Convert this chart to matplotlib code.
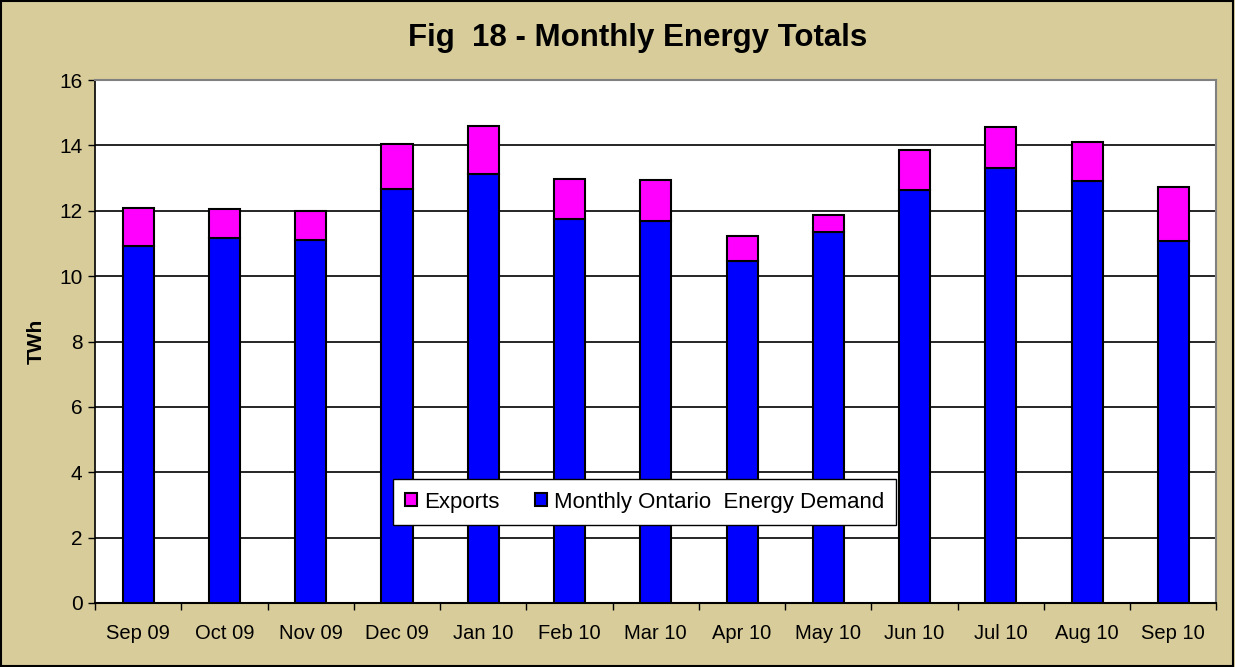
import matplotlib
matplotlib.use("Agg")
import matplotlib.pyplot as plt
from matplotlib.patches import Rectangle
import numpy as np

plt.rcParams['font.family'] = ['Liberation Sans', 'DejaVu Sans']

months = ["Sep 09", "Oct 09", "Nov 09", "Dec 09", "Jan 10", "Feb 10", "Mar 10",
          "Apr 10", "May 10", "Jun 10", "Jul 10", "Aug 10", "Sep 10"]
demand = [10.93, 11.17, 11.12, 12.66, 13.14, 11.75, 11.70, 10.46, 11.35, 12.65, 13.31, 12.90, 11.06]
totals = [12.10, 12.05, 12.00, 14.05, 14.60, 12.96, 12.95, 11.22, 11.88, 13.87, 14.55, 14.11, 12.72]
exports = [t - d for t, d in zip(totals, demand)]

bg = "#D8CC9A"
fig = plt.figure(figsize=(12.35, 6.67), dpi=100, facecolor=bg)
fig.patches.append(Rectangle((0.001, 0.002), 0.997, 0.996, transform=fig.transFigure,
                             fill=False, edgecolor="black", linewidth=1.5, zorder=10))

ax = fig.add_axes([0.077, 0.096, 0.908, 0.784])
ax.set_facecolor("white")
x = np.arange(len(months))
w = 0.36
b1 = ax.bar(x, demand, w, color="#0000FF", edgecolor="black", linewidth=1.5,
            label="Monthly Ontario  Energy Demand", zorder=3)
b2 = ax.bar(x, exports, w, bottom=demand, color="#FF00FF", edgecolor="black", linewidth=1.5,
            label="Exports", zorder=3)

ax.set_ylim(0, 16)
ax.set_xlim(-0.5, len(months) - 0.5)
ax.set_yticks(range(0, 17, 2))
ax.yaxis.grid(True, color="black", linewidth=1.2, zorder=0)
ax.set_axisbelow(True)

ax.set_xticks(np.arange(-0.5, len(months), 1.0))
ax.set_xticklabels([])
ax.set_xticks(x, minor=True)
ax.set_xticklabels(months, minor=True, fontsize=14.5)
ax.tick_params(axis="x", which="minor", length=0, pad=15)
ax.tick_params(axis="x", which="major", length=5, direction="out", width=1)
ax.tick_params(axis="y", length=5, direction="out", width=1, labelsize=15, pad=4)

for s in ["top", "right"]:
    ax.spines[s].set_color("#808080")
    ax.spines[s].set_linewidth(1.5)
ax.spines["left"].set_color("black")
ax.spines["bottom"].set_color("black")
ax.spines["left"].set_linewidth(1.2)
ax.spines["bottom"].set_linewidth(1.5)

ax.set_ylabel("TWh", fontsize=15, fontweight="bold", labelpad=10)
fig.text(0.516, 0.943, "Fig  18 - Monthly Energy Totals", ha="center", va="center",
         fontsize=22.5, fontweight="bold")

leg = ax.legend(handles=[b2, b1], loc="center", bbox_to_anchor=(0.490, 0.193),
                ncol=2, frameon=True, fancybox=False, fontsize=16, framealpha=1,
                handlelength=0.55, handleheight=0.55, handletextpad=0.3,
                columnspacing=1.6, borderpad=0.55, borderaxespad=0)
leg.get_frame().set_edgecolor("black")
leg.get_frame().set_linewidth(1.0)
leg.set_zorder(5)

fig.savefig("out.png", dpi=100, facecolor=bg)
